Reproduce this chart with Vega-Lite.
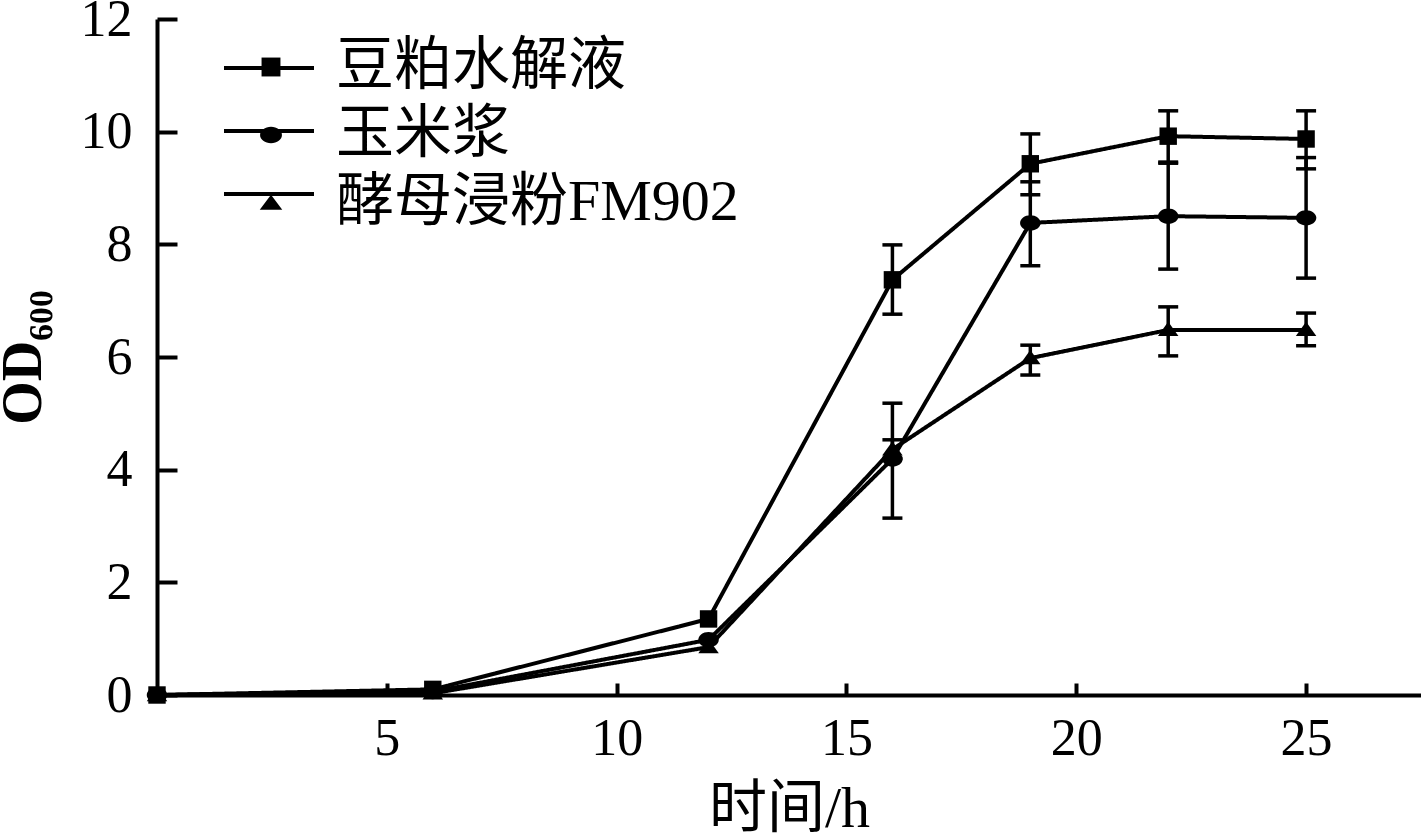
{
  "$schema": "https://vega.github.io/schema/vega-lite/v6.json",
  "autosize": {"type": "none"},
  "padding": {"left": 157, "top": 19, "right": 0, "bottom": 144},
  "width": 1264,
  "height": 676,
  "background": "white",
  "config": {
    "view": {"stroke": null},
    "font": "Liberation Serif",
    "axis": {
      "grid": false,
      "domainColor": "black",
      "domainWidth": 4,
      "tickColor": "black",
      "tickWidth": 4,
      "labelColor": "black",
      "labelFont": "Liberation Serif",
      "labelFontSize": 52,
      "titleColor": "black",
      "titleFont": "Liberation Serif, Noto Sans CJK SC",
      "titleFontWeight": "normal"
    }
  },
  "data": {
    "values": [
      {"medium": "豆粕水解液", "t": 0, "od": 0},
      {"medium": "豆粕水解液", "t": 6, "od": 0.10},
      {"medium": "豆粕水解液", "t": 12, "od": 1.35},
      {"medium": "豆粕水解液", "t": 16, "od": 7.37, "lo": 6.76, "hi": 7.99},
      {"medium": "豆粕水解液", "t": 19, "od": 9.43, "lo": 8.88, "hi": 9.96},
      {"medium": "豆粕水解液", "t": 22, "od": 9.92, "lo": 9.46, "hi": 10.37},
      {"medium": "豆粕水解液", "t": 25, "od": 9.87, "lo": 9.34, "hi": 10.37},
      {"medium": "玉米浆", "t": 0, "od": 0},
      {"medium": "玉米浆", "t": 6, "od": 0.06},
      {"medium": "玉米浆", "t": 12, "od": 0.98},
      {"medium": "玉米浆", "t": 16, "od": 4.19, "lo": 3.14, "hi": 5.18},
      {"medium": "玉米浆", "t": 19, "od": 8.38, "lo": 7.62, "hi": 9.11},
      {"medium": "玉米浆", "t": 22, "od": 8.50, "lo": 7.56, "hi": 9.44},
      {"medium": "玉米浆", "t": 25, "od": 8.47, "lo": 7.40, "hi": 9.54},
      {"medium": "酵母浸粉FM902", "t": 0, "od": 0},
      {"medium": "酵母浸粉FM902", "t": 6, "od": 0.03},
      {"medium": "酵母浸粉FM902", "t": 12, "od": 0.85},
      {"medium": "酵母浸粉FM902", "t": 16, "od": 4.36, "lo": 4.20, "hi": 4.53},
      {"medium": "酵母浸粉FM902", "t": 19, "od": 5.98, "lo": 5.68, "hi": 6.21},
      {"medium": "酵母浸粉FM902", "t": 22, "od": 6.48, "lo": 6.02, "hi": 6.89},
      {"medium": "酵母浸粉FM902", "t": 25, "od": 6.48, "lo": 6.20, "hi": 6.78}
    ]
  },
  "encoding": {
    "x": {
      "field": "t",
      "type": "quantitative",
      "scale": {"domain": [0, 27.5], "nice": false},
      "axis": {
        "title": "时间/h",
        "titleFontSize": 58,
        "titlePadding": 16,
        "values": [5, 10, 15, 20, 25],
        "tickSize": -12,
        "labelPadding": 30
      }
    },
    "y": {
      "field": "od",
      "type": "quantitative",
      "scale": {"domain": [0, 12], "nice": false},
      "axis": {
        "title": "OD₆₀₀",
        "titleFontSize": 56,
        "titleFontWeight": "bold",
        "titleFont": "Liberation Serif, DejaVu Serif",
        "titlePadding": 28,
        "format": "d",
        "values": [0, 2, 4, 6, 8, 10, 12],
        "tickSize": -20,
        "labelPadding": 45
      }
    }
  },
  "resolve": {"scale": {"shape": "independent"}},
  "layer": [
    {
      "mark": {"type": "rule", "color": "black", "strokeWidth": 3.5},
      "encoding": {
        "y": {"field": "lo", "type": "quantitative"},
        "y2": {"field": "hi"}
      }
    },
    {
      "mark": {"type": "tick", "orient": "horizontal", "color": "black", "opacity": 1, "size": 20, "thickness": 3.5},
      "encoding": {"y": {"field": "lo", "type": "quantitative"}}
    },
    {
      "mark": {"type": "tick", "orient": "horizontal", "color": "black", "opacity": 1, "size": 20, "thickness": 3.5},
      "encoding": {"y": {"field": "hi", "type": "quantitative"}}
    },
    {
      "mark": {"type": "line", "color": "black", "strokeWidth": 4},
      "encoding": {
        "detail": {"field": "medium"},
        "strokeDash": {
          "field": "medium",
          "type": "nominal",
          "scale": {"range": [[1, 0], [1, 0], [1, 0]]},
          "legend": {
            "title": null,
            "orient": "none",
            "legendX": 95,
            "legendY": 32,
            "symbolType": "M-3,0H3",
            "symbolSize": 900,
            "symbolStrokeColor": "black",
            "symbolStrokeWidth": 4,
            "labelExpr": "''",
            "labelFontSize": 1,
            "labelOffset": 0,
            "rowPadding": 38
          }
        }
      }
    },
    {
      "mark": {"type": "point", "filled": true, "color": "black", "opacity": 1, "size": 420},
      "encoding": {
        "shape": {
          "field": "medium",
          "type": "nominal",
          "scale": {
            "domain": ["豆粕水解液", "玉米浆", "酵母浸粉FM902"],
            "range": [
              "M-0.85,-0.85H0.85V0.85H-0.85Z",
              "M1,0A1,0.75 0 1,1 -1,0A1,0.75 0 1,1 1,0Z",
              "M0,-0.8L1,0.6H-1Z"
            ]
          },
          "legend": null
        }
      }
    },
    {
      "mark": {"type": "point", "filled": true, "color": "black", "opacity": 1, "size": 0},
      "encoding": {
        "shape": {
          "field": "medium",
          "type": "nominal",
          "scale": {
            "domain": ["豆粕水解液", "玉米浆", "酵母浸粉FM902"],
            "range": [
              "M-0.63,-0.63H0.63V0.63H-0.63Z",
              "M0.73,0A0.73,0.55 0 1,1 -0.73,0A0.73,0.55 0 1,1 0.73,0Z",
              "M0,-0.55L0.75,0.45H-0.75Z"
            ]
          },
          "legend": {
            "title": null,
            "orient": "none",
            "legendX": 85,
            "legendY": 19,
            "symbolSize": 900,
            "symbolFillColor": "black",
            "symbolOpacity": 1,
            "labelFont": "Liberation Serif, Noto Sans CJK SC",
            "labelFontSize": 58,
            "labelColor": "black",
            "labelOffset": 36,
            "labelLimit": 700,
            "rowPadding": 10
          }
        }
      }
    }
  ]
}
